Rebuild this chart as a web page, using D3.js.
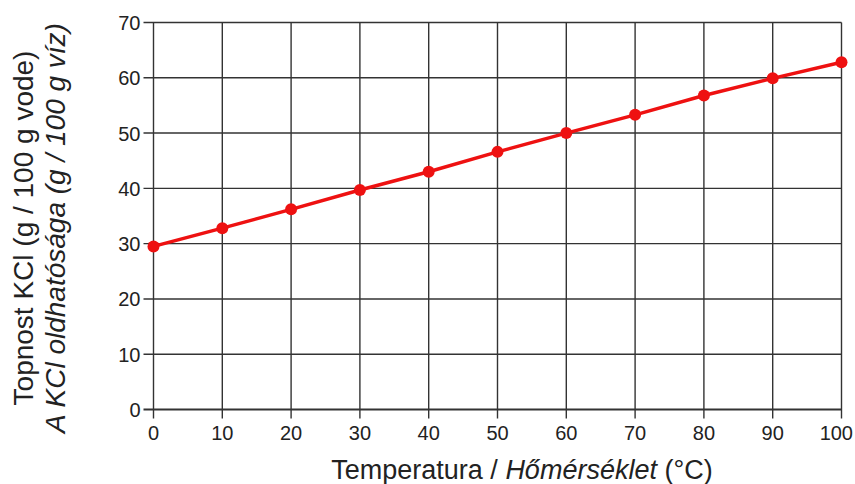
<!DOCTYPE html>
<html><head><meta charset="utf-8">
<script src="https://cdn.jsdelivr.net/npm/d3@7"></script>
<style>body{margin:0;background:#fff}svg{display:block}text{font-family:"Liberation Sans",Arial,sans-serif}</style>
</head><body>
<svg id="c" width="855" height="484"></svg>
<script>
const temps = [0,10,20,30,40,50,60,70,80,90,100];
const solubility = [29.5,32.8,36.2,39.7,43.0,46.6,50.0,53.3,56.8,59.9,62.8];
const xTicks = [0,10,20,30,40,50,60,70,80,90,100];
const yTicks = [0,10,20,30,40,50,60,70];

const svg = d3.select("#c");
const x = d3.scaleLinear().domain([0,100]).range([153.5,841.5]);
const y = d3.scaleLinear().domain([0,70]).range([409.5,22.5]);
const gridColor = "#333";

// grid
svg.append("g").selectAll("line").data(xTicks).join("line")
  .attr("x1",d=>x(d)).attr("x2",d=>x(d)).attr("y1",y(70)).attr("y2",y(0)+9)
  .attr("stroke",gridColor).attr("stroke-width",1.4);
svg.append("g").selectAll("line").data(yTicks).join("line")
  .attr("x1",x(0)-10).attr("x2",x(100)).attr("y1",d=>y(d)).attr("y2",d=>y(d))
  .attr("stroke",gridColor).attr("stroke-width",d=>d===0?2:1.4);

// tick labels
svg.append("g").selectAll("text").data(yTicks).join("text")
  .attr("x",x(0)-13).attr("y",d=>y(d)+7.5).attr("text-anchor","end")
  .attr("font-size",20).attr("fill","#222").text(d=>d);
svg.append("g").selectAll("text").data(xTicks).join("text")
  .attr("x",d=>d===100?853:x(d)).attr("y",y(0)+30)
  .attr("text-anchor",d=>d===100?"end":"middle")
  .attr("font-size",20).attr("fill","#222").text(d=>d);

// line + points
const line = d3.line().x((d,i)=>x(temps[i])).y(d=>y(d));
svg.append("path").datum(solubility).attr("d",line)
  .attr("fill","none").attr("stroke","#ee1111").attr("stroke-width",3.5);
svg.append("g").selectAll("circle").data(solubility).join("circle")
  .attr("cx",(d,i)=>x(temps[i])).attr("cy",d=>y(d)).attr("r",6).attr("fill","#ee1111");

// x title
const xt = svg.append("text").attr("x",522).attr("y",479).attr("text-anchor","middle")
  .attr("font-size",27).attr("fill","#222");
xt.append("tspan").text("Temperatura / ");
xt.append("tspan").attr("font-style","italic").text("Hőmérséklet");
xt.append("tspan").text(" (°C)");

// y title
const yt = svg.append("g").attr("transform","translate(0,228) rotate(-90)");
yt.append("text").attr("x",0).attr("y",33).attr("text-anchor","middle")
  .attr("font-size",28).attr("fill","#222").text("Topnost KCl (g / 100 g vode)");
const y2 = yt.append("text").attr("x",0).attr("y",65).attr("text-anchor","middle")
  .attr("font-size",28).attr("fill","#222");
y2.append("tspan").attr("font-style","italic").text("A KCl oldhatósága (g / 100 g víz)");
</script>
</body></html>
